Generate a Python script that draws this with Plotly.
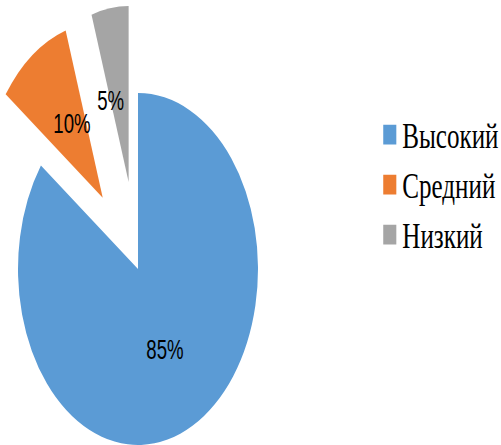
import plotly.graph_objects as go

labels = ["Высокий", "Средний", "Низкий"]
values = [85, 10, 5]
colors = ["#5B9BD5", "#ED7D31", "#A5A5A5"]
pulls = [0, 0.5, 0.5]
# label centres (paper fractions) for the percentage texts
label_x = [0.330, 0.144, 0.221]
label_y = [0.216, 0.724, 0.775]

fig = go.Figure(go.Pie(
    labels=labels,
    values=values,
    sort=False,
    direction="clockwise",
    rotation=0,
    pull=pulls,
    marker=dict(colors=colors, line=dict(width=0)),
    textinfo="none",
    hoverinfo="skip",
))

total = sum(values)
for v, lx, ly in zip(values, label_x, label_y):
    fig.add_annotation(
        x=lx, y=ly, xref="paper", yref="paper",
        text=f"{round(100 * v / total)}%",
        showarrow=False,
        xanchor="center", yanchor="middle",
        font=dict(family="Liberation Sans", size=23, color="black"),
    )

fig.update_layout(
    width=501, height=445,
    margin=dict(l=0, r=0, t=0, b=0),
    paper_bgcolor="white",
    plot_bgcolor="white",
    showlegend=True,
    legend=dict(
        x=0.716, y=0.771, xanchor="left", yanchor="top",
        font=dict(family="Times New Roman, Liberation Serif, DejaVu Serif, serif", size=23, color="black"),
        bgcolor="rgba(0,0,0,0)",
        borderwidth=0,
    ),
)

post = """
document.body.style.margin = '0';
var gd = document.getElementById('{plot_id}');
function fixShapes(){
  try {
    var c = gd.calcdata[0][0];
    var pl = gd.querySelector('.pielayer');
    if (pl && c && c.r) {
      var sx = 120 / c.r, sy = 176 / c.r;
      pl.setAttribute('transform', 'translate(138,269) scale(' + sx + ',' + sy + ') translate(' + (-c.cx) + ',' + (-c.cy) + ')');
    }
    var lg = gd.querySelector('g.legend');
    if (lg) {
      var t = lg.getAttribute('transform') || '';
      if (t.indexOf('scale') < 0) lg.setAttribute('transform', t + ' scale(1.09,1.52)');
    }
    gd.querySelectorAll('path.legendpie').forEach(function(p){
      p.setAttribute('d', 'M6,6.5H-6V-6.5H6Z');
      p.setAttribute('transform', 'translate(28.5,0)');
    });
    gd.querySelectorAll('g.annotation-text-g').forEach(function(g){
      var b = g.getBBox();
      var cx = b.x + b.width / 2, cy = b.y + b.height / 2;
      g.setAttribute('transform', 'translate(' + cx + ',' + cy + ') scale(0.81,1.19) translate(' + (-cx) + ',' + (-cy) + ')');
    });
  } catch(e) {}
}
fixShapes();
gd.on('plotly_afterplot', fixShapes);
"""

fig.write_html("out.html", post_script=post, config={"responsive": False, "displayModeBar": False})
